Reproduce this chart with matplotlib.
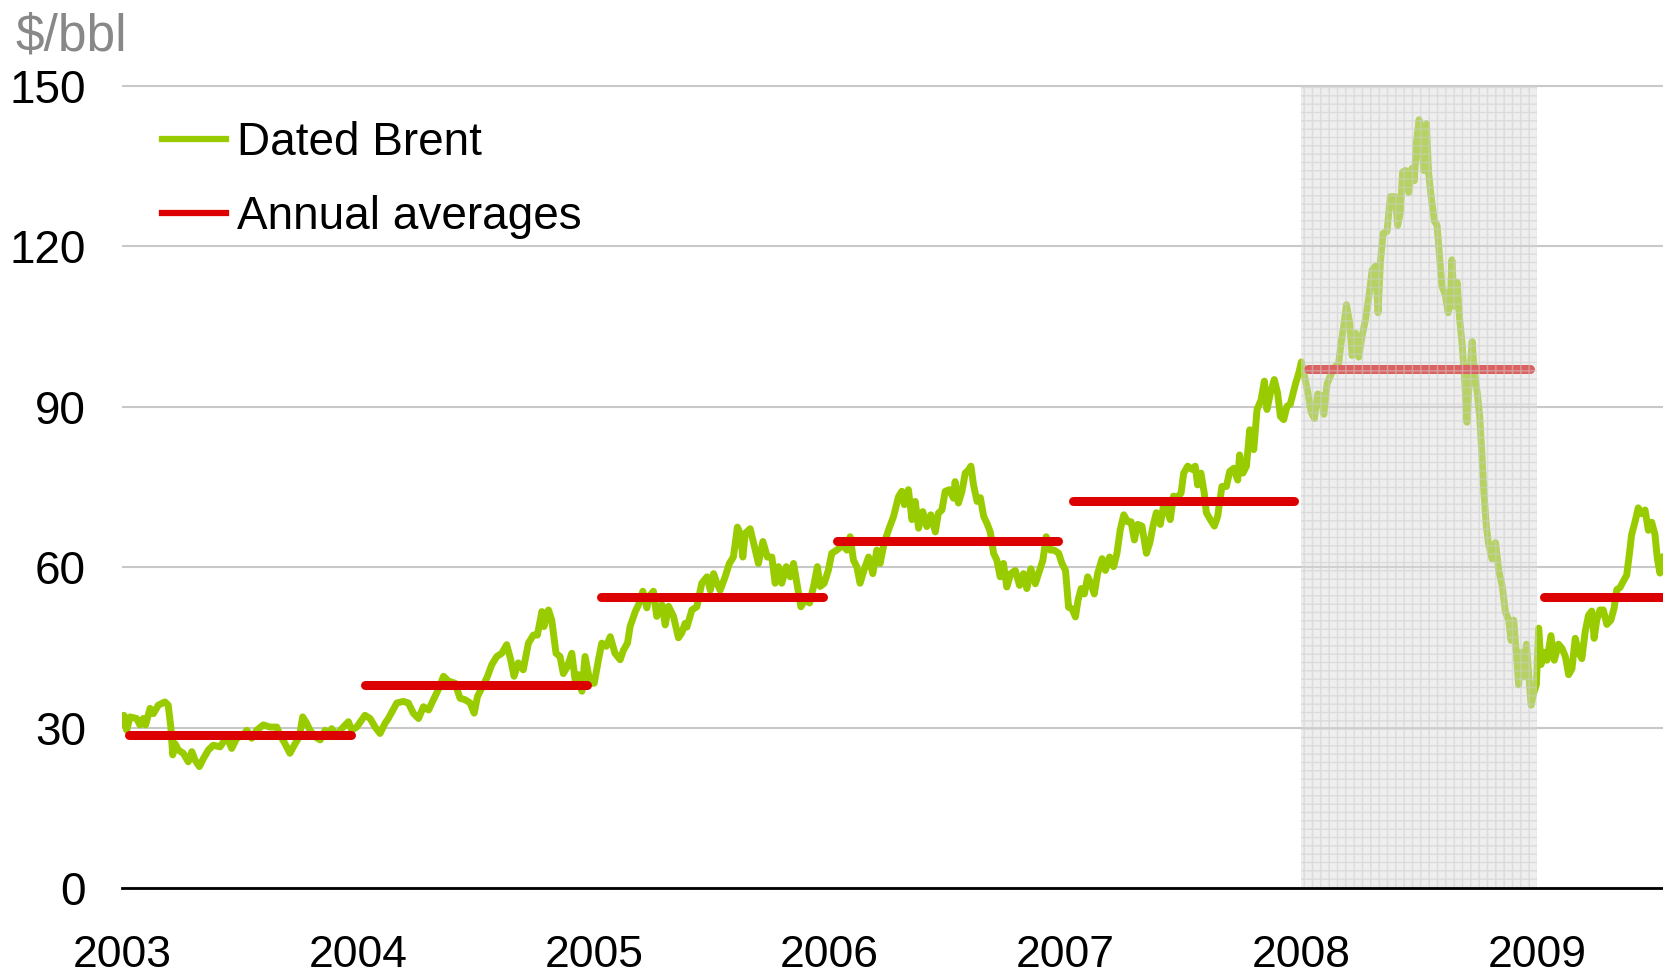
import matplotlib
matplotlib.use("Agg")
import matplotlib.pyplot as plt
from matplotlib.lines import Line2D

plt.rcParams['font.family'] = ['Liberation Sans', 'DejaVu Sans']
plt.rcParams['hatch.linewidth'] = 1.0

# ---- data ----
dates = [
    2003.000, 2003.008, 2003.020, 2003.034, 2003.062, 2003.076, 2003.090, 2003.100, 2003.119, 2003.133,
    2003.154, 2003.182, 2003.196, 2003.207, 2003.215, 2003.225, 2003.239, 2003.260, 2003.281, 2003.296,
    2003.310, 2003.328, 2003.345, 2003.366, 2003.387, 2003.416, 2003.444, 2003.465, 2003.486, 2003.514,
    2003.529, 2003.550, 2003.571, 2003.599, 2003.628, 2003.656, 2003.670, 2003.691, 2003.712, 2003.734,
    2003.752, 2003.766, 2003.783, 2003.797, 2003.818, 2003.840, 2003.861, 2003.875, 2003.889, 2003.910,
    2003.925, 2003.938, 2003.960, 2003.974, 2003.995, 2004.030, 2004.052, 2004.073, 2004.094, 2004.115,
    2004.129, 2004.165, 2004.193, 2004.214, 2004.235, 2004.257, 2004.278, 2004.300, 2004.320, 2004.341,
    2004.363, 2004.384, 2004.412, 2004.433, 2004.455, 2004.476, 2004.493, 2004.507, 2004.525, 2004.547,
    2004.568, 2004.589, 2004.610, 2004.631, 2004.648, 2004.662, 2004.680, 2004.701, 2004.723, 2004.744,
    2004.761, 2004.780, 2004.789, 2004.808, 2004.822, 2004.840, 2004.857, 2004.871, 2004.888, 2004.907,
    2004.921, 2004.935, 2004.950, 2004.963, 2004.985, 2005.002, 2005.020, 2005.034, 2005.053, 2005.070,
    2005.090, 2005.112, 2005.126, 2005.143, 2005.154, 2005.176, 2005.190, 2005.208, 2005.225, 2005.236,
    2005.253, 2005.267, 2005.289, 2005.303, 2005.317, 2005.338, 2005.359, 2005.373, 2005.387, 2005.395,
    2005.416, 2005.437, 2005.458, 2005.480, 2005.494, 2005.508, 2005.522, 2005.536, 2005.557, 2005.575,
    2005.592, 2005.609, 2005.621, 2005.632, 2005.642, 2005.663, 2005.680, 2005.698, 2005.717, 2005.736,
    2005.755, 2005.769, 2005.783, 2005.797, 2005.816, 2005.833, 2005.847, 2005.861, 2005.878, 2005.896,
    2005.915, 2005.932, 2005.948, 2005.960, 2005.977, 2005.995, 2006.009, 2006.030, 2006.056, 2006.073,
    2006.087, 2006.101, 2006.115, 2006.129, 2006.146, 2006.165, 2006.183, 2006.200, 2006.214, 2006.231,
    2006.250, 2006.271, 2006.292, 2006.306, 2006.317, 2006.334, 2006.349, 2006.363, 2006.377, 2006.395,
    2006.412, 2006.429, 2006.448, 2006.461, 2006.476, 2006.490, 2006.508, 2006.525, 2006.532, 2006.546,
    2006.561, 2006.575, 2006.589, 2006.599, 2006.610, 2006.625, 2006.639, 2006.653, 2006.667, 2006.681,
    2006.695, 2006.709, 2006.723, 2006.737, 2006.751, 2006.768, 2006.787, 2006.805, 2006.822, 2006.836,
    2006.853, 2006.872, 2006.890, 2006.904, 2006.918, 2006.935, 2006.952, 2006.971, 2006.985, 2007.000,
    2007.013, 2007.028, 2007.042, 2007.053, 2007.066, 2007.080, 2007.094, 2007.108, 2007.122, 2007.136,
    2007.155, 2007.169, 2007.187, 2007.204, 2007.218, 2007.232, 2007.247, 2007.263, 2007.278, 2007.292,
    2007.306, 2007.324, 2007.343, 2007.357, 2007.371, 2007.385, 2007.402, 2007.416, 2007.430, 2007.444,
    2007.458, 2007.475, 2007.490, 2007.501, 2007.518, 2007.536, 2007.550, 2007.560, 2007.574, 2007.588,
    2007.597, 2007.614, 2007.631, 2007.645, 2007.663, 2007.682, 2007.696, 2007.713, 2007.730, 2007.738,
    2007.752, 2007.767, 2007.781, 2007.798, 2007.812, 2007.829, 2007.843, 2007.854, 2007.869, 2007.885,
    2007.899, 2007.911, 2007.925, 2007.939, 2007.953, 2007.975, 2007.990, 2008.000, 2008.013, 2008.027,
    2008.041, 2008.055, 2008.069, 2008.084, 2008.095, 2008.109, 2008.123, 2008.140, 2008.158, 2008.168,
    2008.179, 2008.191, 2008.205, 2008.215, 2008.229, 2008.243, 2008.258, 2008.272, 2008.286, 2008.300,
    2008.314, 2008.325, 2008.335, 2008.346, 2008.363, 2008.377, 2008.398, 2008.408, 2008.419, 2008.429,
    2008.441, 2008.455, 2008.469, 2008.479, 2008.487, 2008.499, 2008.508, 2008.518, 2008.530, 2008.539,
    2008.550, 2008.564, 2008.575, 2008.586, 2008.596, 2008.610, 2008.622, 2008.631, 2008.638, 2008.648,
    2008.660, 2008.671, 2008.681, 2008.691, 2008.702, 2008.713, 2008.724, 2008.733, 2008.745, 2008.756,
    2008.766, 2008.773, 2008.784, 2008.794, 2008.808, 2008.823, 2008.837, 2008.851, 2008.865, 2008.879,
    2008.889, 2008.900, 2008.911, 2008.921, 2008.931, 2008.942, 2008.954, 2008.963, 2008.974, 2008.985,
    2008.996, 2009.006, 2009.016, 2009.027, 2009.041, 2009.058, 2009.072, 2009.090, 2009.105, 2009.119,
    2009.133, 2009.147, 2009.161, 2009.175, 2009.189, 2009.203, 2009.217, 2009.231, 2009.241, 2009.252,
    2009.266, 2009.280, 2009.295, 2009.312, 2009.326, 2009.337, 2009.351, 2009.365, 2009.379, 2009.390,
    2009.400, 2009.414, 2009.428, 2009.443, 2009.457, 2009.471, 2009.485, 2009.499, 2009.509, 2009.520,
    2009.533,
]

brent = [
    30.5, 32.3, 29.5, 32.0, 31.7, 30.5, 31.7, 30.5, 33.6, 32.6,
    34.2, 34.8, 34.2, 30.1, 24.9, 27.0, 25.8, 25.2, 23.6, 25.5,
    23.9, 22.7, 24.2, 25.8, 26.7, 26.4, 28.3, 26.1, 28.0, 28.6,
    29.5, 28.0, 29.5, 30.5, 30.1, 30.1, 28.6, 27.0, 25.2, 27.0,
    28.3, 32.0, 30.8, 29.5, 28.3, 27.7, 29.5, 28.3, 29.8, 28.3,
    29.5, 30.1, 31.1, 29.5, 30.1, 32.3, 31.7, 30.1, 28.9, 30.8,
    31.7, 34.6, 34.9, 34.6, 32.7, 31.7, 33.9, 33.3, 35.2, 37.1,
    39.6, 38.7, 38.3, 35.5, 35.2, 34.6, 32.7, 35.8, 37.4, 39.3,
    41.8, 43.3, 43.9, 45.5, 42.7, 39.6, 42.1, 40.8, 45.8, 47.3,
    47.3, 51.7, 48.9, 52.0, 50.1, 43.9, 43.3, 40.1, 41.4, 43.9,
    38.9, 39.9, 36.8, 43.3, 38.3, 38.3, 42.7, 45.8, 45.2, 47.0,
    43.9, 42.7, 44.5, 45.8, 48.9, 51.7, 53.0, 55.5, 52.4, 54.6,
    55.5, 50.8, 53.0, 49.2, 52.7, 50.8, 46.8, 47.7, 49.5, 48.8,
    52.0, 52.6, 57.0, 58.2, 55.7, 58.8, 57.0, 55.7, 58.2, 60.7,
    61.9, 67.5, 66.3, 61.9, 66.3, 67.2, 64.1, 60.7, 64.8, 61.9,
    61.9, 57.0, 60.1, 57.0, 60.1, 58.2, 60.7, 57.0, 52.6, 53.9,
    53.3, 56.4, 60.1, 56.4, 57.0, 59.5, 62.6, 63.2, 64.1, 63.2,
    65.7, 61.3, 60.1, 57.0, 59.5, 61.9, 58.8, 63.2, 60.7, 64.5,
    67.0, 69.5, 73.2, 74.2, 71.7, 74.5, 68.9, 72.3, 67.3, 70.4,
    67.6, 69.8, 66.6, 70.1, 70.7, 74.2, 74.5, 72.9, 76.0, 72.0,
    74.2, 77.6, 78.2, 78.9, 75.4, 72.3, 73.0, 69.5, 68.2, 66.6,
    62.6, 61.3, 58.2, 60.7, 56.3, 58.8, 59.4, 56.6, 58.8, 56.0,
    59.7, 56.9, 59.4, 61.3, 65.7, 63.2, 63.2, 62.6, 60.7, 59.4,
    52.5, 52.2, 50.7, 53.8, 56.0, 55.0, 58.2, 56.9, 55.0, 58.8,
    61.6, 59.4, 61.9, 60.1, 62.6, 67.0, 69.8, 68.5, 68.5, 65.1,
    68.0, 67.7, 62.6, 64.5, 67.7, 70.2, 68.0, 71.7, 70.8, 68.9,
    73.3, 73.0, 73.9, 77.6, 78.9, 78.3, 78.9, 75.4, 77.6, 73.9,
    70.2, 68.9, 67.7, 69.5, 75.1, 75.1, 77.9, 78.5, 76.3, 81.0,
    77.6, 78.9, 85.7, 82.0, 89.5, 91.3, 94.8, 89.5, 92.6, 95.1,
    92.6, 88.2, 87.6, 90.1, 90.5, 94.3, 96.5, 98.4, 95.8, 92.8,
    89.0, 87.8, 92.4, 92.1, 88.6, 94.3, 95.8, 97.4, 98.1, 101.9,
    104.9, 109.1, 105.7, 99.6, 103.8, 99.3, 103.4, 106.4, 110.6, 115.6,
    116.3, 107.6, 117.1, 122.4, 122.8, 129.3, 129.3, 123.9, 126.2, 133.9,
    134.2, 130.1, 134.6, 132.3, 139.2, 143.7, 140.3, 134.2, 143.0, 133.9,
    129.3, 124.7, 124.0, 117.9, 112.5, 111.0, 107.6, 109.5, 117.5, 108.8,
    113.3, 106.4, 101.9, 95.8, 87.1, 95.8, 102.2, 96.5, 92.8, 88.2,
    80.6, 74.5, 67.7, 64.2, 61.6, 64.6, 59.3, 56.6, 51.6, 50.1,
    46.3, 50.1, 44.1, 38.0, 44.1, 39.5, 45.6, 40.3, 34.2, 36.5,
    38.0, 48.6, 41.8, 44.1, 42.6, 47.2, 42.6, 45.6, 44.8, 43.3,
    39.9, 41.0, 46.7, 44.1, 42.9, 47.9, 51.0, 51.8, 46.7, 50.1,
    52.0, 52.0, 49.3, 50.1, 52.4, 55.8, 56.2, 57.4, 58.5, 62.3,
    66.1, 68.4, 71.1, 70.0, 70.7, 66.9, 68.4, 66.1, 61.6, 58.9,
    62.0,
]

avg_years = [2003, 2004, 2005, 2006, 2007, 2008, 2009]
avg_values = [28.7, 38.0, 54.4, 64.9, 72.3, 97.1, 54.4]

y_ticks = [0, 30, 60, 90, 120, 150]
x_ticks = [2003, 2004, 2005, 2006, 2007, 2008, 2009]
x_labels = ['2003', '2004', '2005', '2006', '2007', '2008', '2009']

shade_start, shade_end = 2008, 2009
x_end = 2009.533

# ---- figure ----
fig = plt.figure(figsize=(16.63, 9.77), dpi=100)
ax = fig.add_axes([0.07336, 0.0911, 1 - 0.07336, 0.9147 - 0.0911])

green = '#99cc00'
red = '#dd0000'

ax.plot(dates, brent, color=green, lw=5.0, solid_joinstyle='round',
        solid_capstyle='round', zorder=3)

for i, (yr, val) in enumerate(zip(avg_years, avg_values)):
    x0 = yr + 0.03
    x1 = x_end if i == len(avg_years) - 1 else yr + 0.97
    ax.plot([x0, x1], [val, val], color=red, lw=6.5, solid_capstyle='round', zorder=4)

# shaded 2008 band (drawn over the lines, semi-transparent)
ax.axvspan(shade_start, shade_end, ymin=0, ymax=150 / 150.5,
           facecolor=(0.86, 0.86, 0.86, 0.45), edgecolor='none', zorder=5)
ax.axvspan(shade_start, shade_end, ymin=0, ymax=150 / 150.5,
           facecolor='none', edgecolor=(0.80, 0.80, 0.80, 0.55), hatch='++',
           lw=0, zorder=5)

ax.set_xlim(2003, x_end)
ax.set_ylim(0, 150.5)

for s in ['top', 'right', 'left']:
    ax.spines[s].set_visible(False)
ax.spines['bottom'].set_color('black')
ax.spines['bottom'].set_linewidth(2.0)
ax.spines['bottom'].set_zorder(6)

ax.set_yticks(y_ticks)
ax.set_yticklabels([str(t) for t in y_ticks])
ax.set_xticks(x_ticks)
ax.set_xticklabels(x_labels)
ax.tick_params(axis='both', length=0, labelsize=33, colors='black')
ax.tick_params(axis='y', pad=26)
ax.tick_params(axis='x', labelsize=32, pad=34)

ax.yaxis.grid(True, color='#c8c8c8', lw=1.5, zorder=0)
ax.set_axisbelow(True)

fig.text(15 / 1663, 1 - 50 / 977, '$/bbl', fontsize=37, color='#888888',
         ha='left', va='baseline')

handles = [Line2D([0], [0], color=green, lw=4.5),
           Line2D([0], [0], color=red, lw=4.5)]
leg = ax.legend(handles, ['Dated Brent', 'Annual averages'], loc='upper left',
                bbox_to_anchor=(162 / 1663, 1 - 121 / 977),
                bbox_transform=fig.transFigure, frameon=False, fontsize=33,
                handlelength=1.4, handletextpad=0.23, labelspacing=0.65,
                borderpad=0, borderaxespad=0)

fig.savefig('out.png', dpi=100)
